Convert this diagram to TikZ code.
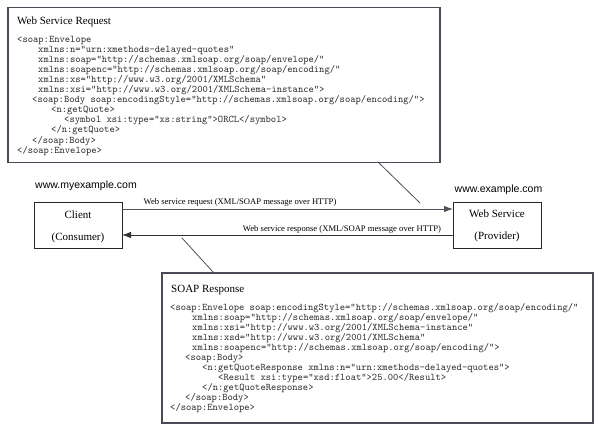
\documentclass[tikz,border=0pt]{standalone}
\usepackage{fontspec}
\setmainfont{Liberation Serif}
\setsansfont{Liberation Sans}
\usetikzlibrary{arrows.meta}
\definecolor{edgecol}{HTML}{4A4A58}
\definecolor{codecol}{HTML}{2A2A2A}
\definecolor{linecol}{HTML}{505058}
\begin{document}
\begin{tikzpicture}[x=1pt,y=-1pt,
  panel/.style={draw=edgecol,line width=1.2pt,fill=white},
  sbox/.style={draw=black!85,line width=0.9pt},
  codeln/.style={font=\fontsize{10.1}{11}\selectfont\ttfamily,anchor=base west,inner sep=0pt,text=codecol},
  ptitle/.style={font=\fontsize{11}{13}\selectfont,anchor=base west,inner sep=0pt},
  blabel/.style={font=\fontsize{11}{13}\selectfont,inner sep=0pt},
  alabel/.style={font=\fontsize{8.6}{10}\selectfont,inner sep=0pt},
  url/.style={font=\fontsize{10.5}{12}\sffamily\selectfont,inner sep=0pt},
  msg/.style={line width=0.9pt,-{Latex[length=9pt,width=6.5pt]}}]
\useasboundingbox (0,0) rectangle (602,432);
\fill[white] (0,0) rectangle (602,432);

% top panel
\draw[panel] (8,7.5) rectangle (440,162.5);
\node[ptitle] (qt) at (17,24.5) {Web Service Request};
\node[codeln] (q1)  at (17,42)     {<soap:Envelope};
\node[codeln] (q2)  at (38,52.1)   {xmlns:n="urn:xmethods-delayed-quotes"};
\node[codeln] (q3)  at (38,62.2)   {xmlns:soap="http://schemas.xmlsoap.org/soap/envelope/"};
\node[codeln] (q4)  at (38,72.3)   {xmlns:soapenc="http://schemas.xmlsoap.org/soap/encoding/"};
\node[codeln] (q5)  at (38,82.4)   {xmlns:xs="http://www.w3.org/2001/XMLSchema"};
\node[codeln] (q6)  at (38,92.5)   {xmlns:xsi="http://www.w3.org/2001/XMLSchema-instance">};
\node[codeln] (q7)  at (32,102.6)  {<soap:Body soap:encodingStyle="http://schemas.xmlsoap.org/soap/encoding/">};
\node[codeln] (q8)  at (51,112.7)  {<n:getQuote>};
\node[codeln] (q9)  at (64,122.8)  {<symbol xsi:type="xs:string">ORCL</symbol>};
\node[codeln] (q10) at (51,132.9)  {</n:getQuote>};
\node[codeln] (q11) at (32,143.0)  {</soap:Body>};
\node[codeln] (q12) at (17,153.1)  {</soap:Envelope>};

% bottom panel
\draw[panel] (162,273) rectangle (593,423);
\node[ptitle] (rt) at (171,292.5) {SOAP Response};
\node[codeln] (r1)  at (170,310) {<soap:Envelope soap:encodingStyle="http://schemas.xmlsoap.org/soap/encoding/"};
\node[codeln] (r2)  at (192,320) {xmlns:soap="http://schemas.xmlsoap.org/soap/envelope/"};
\node[codeln] (r3)  at (192,330) {xmlns:xsi="http://www.w3.org/2001/XMLSchema-instance"};
\node[codeln] (r4)  at (192,340) {xmlns:xsd="http://www.w3.org/2001/XMLSchema"};
\node[codeln] (r5)  at (192,350) {xmlns:soapenc="http://schemas.xmlsoap.org/soap/encoding/">};
\node[codeln] (r6)  at (185,360) {<soap:Body>};
\node[codeln] (r7)  at (202,370) {<n:getQuoteResponse xmlns:n="urn:xmethods-delayed-quotes">};
\node[codeln] (r8)  at (218,380) {<Result xsi:type="xsd:float">25.00</Result>};
\node[codeln] (r9)  at (202,390) {</n:getQuoteResponse>};
\node[codeln] (r10) at (185,400) {</soap:Body>};
\node[codeln] (r11) at (170,410) {</soap:Envelope>};

% client / service boxes
\draw[sbox] (34,202) rectangle (122,248);
\node[blabel] (c1) at (78,215) {Client};
\node[blabel] (c2) at (78,237.5) {(Consumer)};
\draw[sbox] (453,202) rectangle (541,248);
\node[blabel] (s1) at (497,214) {Web Service};
\node[blabel] (s2) at (497,237) {(Provider)};

\node[url] (u1) at (86,186) {www.myexample.com};
\node[url] (u2) at (498.5,190) {www.example.com};

% messages
\coordinate (a1) at (122,209);
\coordinate (a2) at (453,209);
\coordinate (b1) at (453,235);
\coordinate (b2) at (122,235);
\draw[msg,draw=linecol,fill=black] (a1) -- (a2);
\draw[msg,draw=black!80,fill=black] (b1) -- (b2);
\node[alabel] (l1) at (240,202) {Web service request (XML/SOAP message over HTTP)};
\node[alabel] (l2) at (342,229) {Web service response (XML/SOAP message over HTTP)};

% callout lines
\coordinate (t1) at (379,163);
\coordinate (t2) at (420,203);
\coordinate (t3) at (182,238);
\coordinate (t4) at (213,272);
\draw[linecol,line width=0.8pt] (t1) -- (t2);
\draw[linecol,line width=0.8pt] (t3) -- (t4);
\end{tikzpicture}
\end{document}
